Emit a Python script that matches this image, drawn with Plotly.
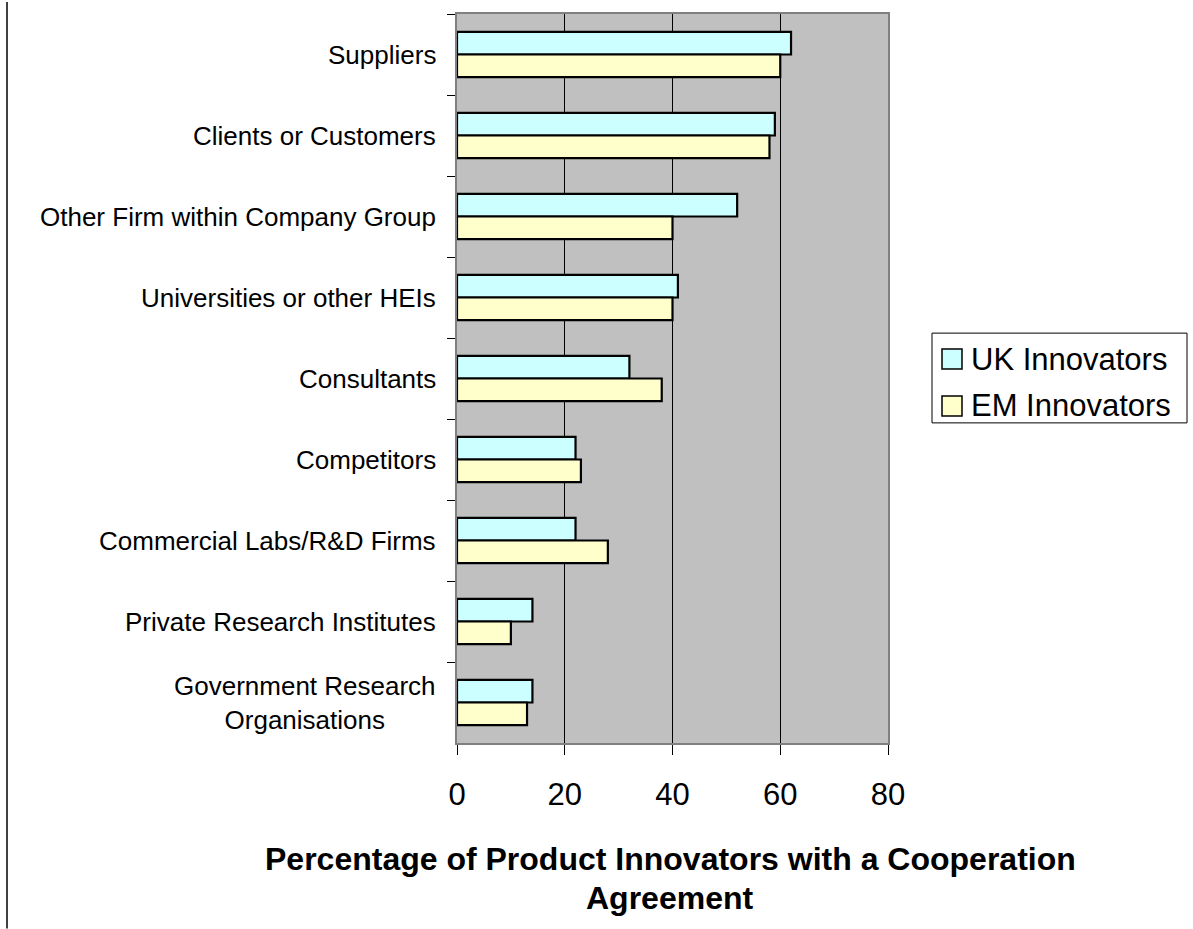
import plotly.graph_objects as go

# ---- data ----
categories = ["Suppliers", "Clients or Customers", "Other Firm within Company Group",
              "Universities or other HEIs", "Consultants", "Competitors",
              "Commercial Labs/R&D Firms", "Private Research Institutes",
              "Government Research<br>Organisations"]
uk_values = [62, 59, 52, 41, 32, 22, 22, 14, 14]
em_values = [60, 58, 40, 40, 38, 23, 28, 10, 13]
series_names = ["UK Innovators", "EM Innovators"]
x_ticks = [0, 20, 40, 60, 80]
x_title_lines = ["Percentage of Product Innovators with a Cooperation", "Agreement"]

UK_COLOR = "#CCFFFF"
EM_COLOR = "#FFFFCC"
PLOT_BG = "#C0C0C0"
FONT = "Liberation Sans, Arial, sans-serif"

W, H = 1193, 929
L, R, T, B = 457, 305, 12, 186
PW, PH = W - L - R, H - T - B


def px_x(px):
    return (px - L) / PW


def px_y(py):
    return (H - B - py) / PH


fig = go.Figure()
for name, vals, col in [(series_names[0], uk_values, UK_COLOR),
                        (series_names[1], em_values, EM_COLOR)]:
    fig.add_trace(go.Bar(
        y=categories, x=vals, orientation="h", name=name,
        marker=dict(color=col, line=dict(color="black", width=2.2)),
        showlegend=False,
    ))

annotations = []
for c in categories:
    annotations.append(dict(
        x=0, xref="paper", y=c, yref="y", text=c, showarrow=False,
        xanchor="right", yanchor="middle", xshift=-19, align="center",
        font=dict(size=26, color="black", family=FONT),
    ))

# axis title (two lines)
annotations.append(dict(x=0.495, xref="paper", y=px_y(859), yref="paper",
                        text="<b>%s</b>" % x_title_lines[0], showarrow=False,
                        xanchor="center", yanchor="middle",
                        font=dict(size=32, color="black", family=FONT)))
annotations.append(dict(x=0.495, xref="paper", y=px_y(898), yref="paper",
                        text="<b>%s</b>" % x_title_lines[1], showarrow=False,
                        xanchor="center", yanchor="middle",
                        font=dict(size=32, color="black", family=FONT)))

shapes = []
# legend box
shapes.append(dict(type="rect", xref="paper", yref="paper",
                   x0=px_x(932), x1=px_x(1187), y0=px_y(332), y1=px_y(422),
                   line=dict(color="black", width=1), fillcolor="white"))
legend_rows = [(series_names[0], UK_COLOR, 358), (series_names[1], EM_COLOR, 405)]
for name, col, cy in legend_rows:
    shapes.append(dict(type="rect", xref="paper", yref="paper",
                       x0=px_x(942), x1=px_x(962), y0=px_y(cy - 10), y1=px_y(cy + 10),
                       line=dict(color="black", width=1.5), fillcolor=col))
    annotations.append(dict(x=px_x(969), xref="paper", y=px_y(cy), yref="paper",
                            text=name, showarrow=False, xanchor="left", yanchor="middle",
                            font=dict(size=31, color="black", family=FONT)))
# chart area left border
shapes.append(dict(type="line", xref="paper", yref="paper",
                   x0=px_x(7), x1=px_x(7), y0=px_y(0), y1=px_y(H),
                   line=dict(color="black", width=1.5)))

fig.update_layout(
    width=W, height=H,
    margin=dict(l=L, r=R, t=T, b=B, pad=0),
    barmode="group", bargap=0.44, bargroupgap=0,
    plot_bgcolor=PLOT_BG, paper_bgcolor="white",
    font=dict(family=FONT, color="black"),
    showlegend=False,
    annotations=annotations,
    shapes=shapes,
    xaxis=dict(range=[0, 80], tickvals=x_ticks, ticktext=[str(v) for v in x_ticks],
               showgrid=True, gridcolor="black", gridwidth=1, zeroline=False,
               ticks="outside", ticklen=10, tickcolor="black", tickwidth=1,
               tickfont=dict(size=31, family=FONT, color="black"),
               ticklabelstandoff=13,
               showline=True, linecolor="#808080", linewidth=2, mirror=True),
    yaxis=dict(type="category", range=[8.5, -0.5], tickson="boundaries",
               ticks="outside", ticklen=8, tickcolor="black", tickwidth=1,
               showticklabels=False, showgrid=False, zeroline=False,
               showline=True, linecolor="#808080", linewidth=2, mirror=True),
)

fig.write_html("out.html")
